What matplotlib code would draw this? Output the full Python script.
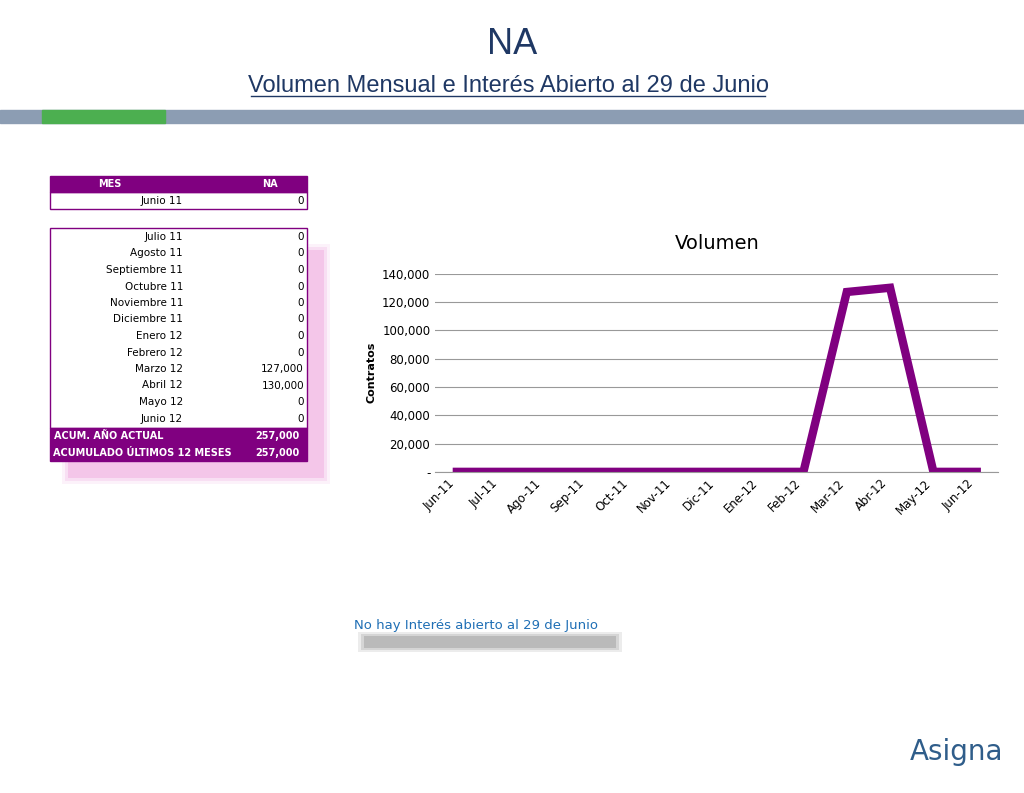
import matplotlib
matplotlib.use("Agg")
import matplotlib.pyplot as plt
from matplotlib.patches import Rectangle

months = ["Jun-11","Jul-11","Ago-11","Sep-11","Oct-11","Nov-11","Dic-11","Ene-12","Feb-12","Mar-12","Abr-12","May-12","Jun-12"]
volumes = [0,0,0,0,0,0,0,0,0,127000,130000,0,0]
table_months = ["Julio 11","Agosto 11","Septiembre 11","Octubre 11","Noviembre 11","Diciembre 11","Enero 12","Febrero 12","Marzo 12","Abril 12","Mayo 12","Junio 12"]
table_values = ["0","0","0","0","0","0","0","0","127,000","130,000","0","0"]
yticks = [0,20000,40000,60000,80000,100000,120000,140000]
ytick_labels = ["-","20,000","40,000","60,000","80,000","100,000","120,000","140,000"]

purple = "#800080"
fig = plt.figure(figsize=(10.24,7.93), dpi=100)
bg = fig.add_axes([0,0,1,1])
bg.set_xlim(0,1024); bg.set_ylim(793,0); bg.axis("off")

bg.text(512,45,"NA",ha="center",va="center",fontsize=26,color="#1f3864",family="Liberation Sans")
bg.text(508,86,"Volumen Mensual e Interés Abierto al 29 de Junio",ha="center",va="center",fontsize=17,color="#1f3864",family="Liberation Sans")
bg.plot([251,765],[96,96],color="#1f3864",lw=1)
bg.add_patch(Rectangle((0,110),1024,13,color="#8c9db3"))
bg.add_patch(Rectangle((42,110),123,13,color="#4caf50"))

# header table
bg.add_patch(Rectangle((50,176),257,16,color=purple))
bg.text(110,184,"MES",color="white",fontsize=7,weight="bold",ha="center",va="center")
bg.text(270,184,"NA",color="white",fontsize=7,weight="bold",ha="center",va="center")
bg.add_patch(Rectangle((50,192),257,17,fill=False,ec=purple,lw=1))
bg.text(183,201,"Junio 11",fontsize=7.5,ha="right",va="center")
bg.text(304,201,"0",fontsize=7.5,ha="right",va="center")
# shadow (soft)
for k,a in enumerate([0.15,0.25,0.45]):
    bg.add_patch(Rectangle((62+k*3,244+k*3),268-k*6,240-k*6,color="#f0a8df",alpha=a,lw=0,zorder=0))
bg.add_patch(Rectangle((50,228),257,200,fc="white",ec=purple,lw=1))
for i,(m,v) in enumerate(zip(table_months,table_values)):
    y=237+i*16.5
    bg.text(183,y,m,fontsize=7.5,ha="right",va="center")
    bg.text(304,y,v,fontsize=7.5,ha="right",va="center")
bg.add_patch(Rectangle((50,428),257,33,color=purple))
bg.text(54,436,"ACUM. AÑO ACTUAL",color="white",fontsize=7,weight="bold",va="center")
bg.text(299,436,"257,000",color="white",fontsize=7,weight="bold",va="center",ha="right")
bg.text(53,453,"ACUMULADO ÚLTIMOS 12 MESES",color="white",fontsize=7,weight="bold",va="center")
bg.text(299,453,"257,000",color="white",fontsize=7,weight="bold",va="center",ha="right")

for k,a in enumerate([0.2,0.3,0.5]):
    bg.add_patch(Rectangle((358+k*3,632+k*2),264-k*6,20-k*4,color="#a0a0a0",alpha=a,lw=0,zorder=0))
bg.text(354,625,"No hay Interés abierto al 29 de Junio",color="#1f6fb5",fontsize=9.5,va="center")
bg.text(910,752,"Asigna",color="#2f5d8a",fontsize=20,va="center")

ax = fig.add_axes([0.425,0.405,0.55,0.25])
x = list(range(len(months)))
ax.plot(x,volumes,color=purple,lw=6,solid_joinstyle="miter")
ax.set_ylim(0,140000); ax.set_xlim(-0.5,12.5)
ax.set_yticks(yticks); ax.set_yticklabels(ytick_labels,fontsize=8.5)
ax.set_xticks(x); ax.set_xticklabels(months,rotation=45,ha="right",fontsize=8.5)
ax.grid(axis="y",color="#999",lw=0.8)
ax.tick_params(length=0)
for s in ["top","right","left"]: ax.spines[s].set_visible(False)
ax.spines["bottom"].set_color("#999")
ax.set_ylabel("Contratos",fontsize=8,weight="bold")
ax.set_title("Volumen",fontsize=14,pad=18)
fig.savefig("out.png",dpi=100)
